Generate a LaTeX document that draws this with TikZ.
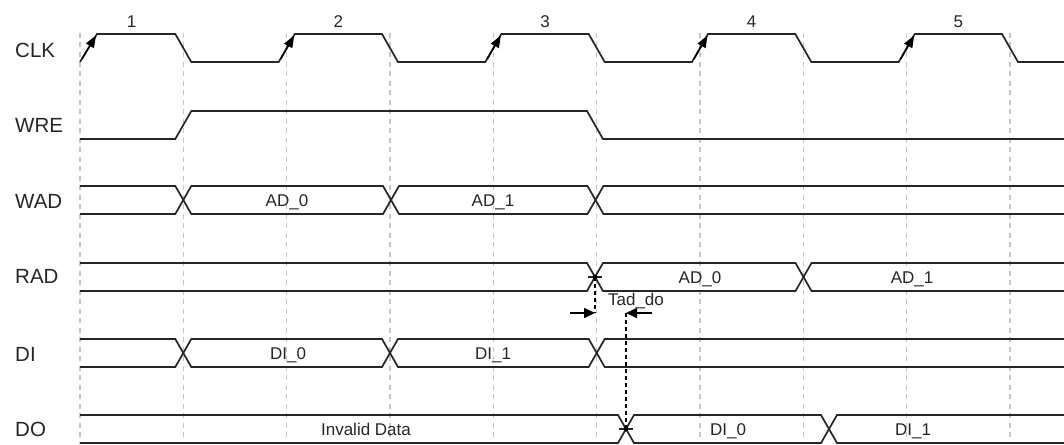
\documentclass[tikz,border=0pt]{standalone}
\usepackage{fontspec}
\setmainfont{Liberation Sans}
\usetikzlibrary{arrows.meta}
\begin{document}
\begin{tikzpicture}[x=1pt,y=-1pt,
  sig/.style={line width=1.7pt, draw=black!85, line join=miter},
  gridline/.style={line width=1.4pt, draw=black!22, dash pattern=on 5pt off 4.5pt},
  signame/.style={font=\fontsize{20.5}{21}\selectfont, anchor=base west, text=black!85, inner sep=0pt},
  lbl/.style={font=\fontsize{17}{17}\selectfont, anchor=base, text=black!85, inner sep=0pt},
  edgearrow/.style={line width=1.5pt, draw=black, -{Triangle[length=12pt,width=9pt]}},
  dimarrow/.style={line width=1.6pt, draw=black, -{Triangle[length=11pt,width=10pt]}},
  guide/.style={line width=1.5pt, draw=black, dash pattern=on 4pt off 3pt},
]
\useasboundingbox (0,0) rectangle (1064,444);

% grid
\foreach \i in {0,...,9}
  \draw[gridline] ({80+103.333*\i},33) -- ({80+103.333*\i},444);

% cycle numbers
\node[lbl] (n1) at (131.7,28) {1};
\node[lbl] (n2) at (338.3,28) {2};
\node[lbl] (n3) at (545,28) {3};
\node[lbl] (n4) at (751.7,28) {4};
\node[lbl] (n5) at (958.3,28) {5};

% signal names
\node[signame] (lclk) at (15,57) {CLK};
\node[signame] (lwre) at (15,132) {WRE};
\node[signame] (lwad) at (15,208) {WAD};
\node[signame] (lrad) at (15,283) {RAD};
\node[signame] (ldi)  at (15,361) {DI};
\node[signame] (ldo)  at (15,436) {DO};

% CLK
\draw[sig] (80,62) -- (97,34) -- (175.3,34) -- (191.3,62) -- (278.7,62) -- (294.7,34)
  -- (382,34) -- (398,62) -- (485.3,62) -- (501.3,34) -- (588.7,34) -- (604.7,62)
  -- (692,62) -- (708,34) -- (795.3,34) -- (811.3,62) -- (898.7,62) -- (914.7,34)
  -- (1002,34) -- (1018,62) -- (1064,62);
\draw[edgearrow] (82,59) -- (96,35.5);
\draw[edgearrow] (280.7,59) -- (294.2,35.5);
\draw[edgearrow] (487.3,59) -- (500.8,35.5);
\draw[edgearrow] (694,59) -- (707.5,35.5);
\draw[edgearrow] (900.7,59) -- (914.2,35.5);

% WRE
\draw[sig] (80,139) -- (175.3,139) -- (191.3,111) -- (587,111) -- (603,139) -- (1064,139);

% WAD
\draw[sig] (80,186) -- (175.3,186) -- (191.3,214) -- (383,214) -- (399,186) -- (587.5,186) -- (603.5,214) -- (1064,214);
\draw[sig] (80,214) -- (175.3,214) -- (191.3,186) -- (383,186) -- (399,214) -- (587.5,214) -- (603.5,186) -- (1064,186);
\node[lbl] (wad0) at (287,206) {AD\_0};
\node[lbl] (wad1) at (493,206) {AD\_1};

% RAD
\draw[sig] (80,263) -- (587,263) -- (603,291) -- (795.5,291) -- (811.5,263) -- (1064,263);
\draw[sig] (80,291) -- (587,291) -- (603,263) -- (795.5,263) -- (811.5,291) -- (1064,291);
\node[lbl] (rad0) at (700,283) {AD\_0};
\node[lbl] (rad1) at (912,283) {AD\_1};

% DI
\draw[sig] (80,339) -- (175.3,339) -- (191.3,367) -- (382,367) -- (398,339) -- (588.7,339) -- (604.7,367) -- (1064,367);
\draw[sig] (80,367) -- (175.3,367) -- (191.3,339) -- (382,339) -- (398,367) -- (588.7,367) -- (604.7,339) -- (1064,339);
\node[lbl] (di0) at (288,359) {DI\_0};
\node[lbl] (di1) at (493,359) {DI\_1};

% DO
\draw[sig] (80,415) -- (618,415) -- (634,443) -- (821,443) -- (837,415) -- (1064,415);
\draw[sig] (80,443) -- (618,443) -- (634,415) -- (821,415) -- (837,443) -- (1064,443);
\node[lbl] (inv) at (366,435) {Invalid Data};
\node[lbl] (do0) at (728,435) {DI\_0};
\node[lbl] (do1) at (913,435) {DI\_1};

% Tad_do annotation
\coordinate (radx) at (595,277);
\coordinate (lfoot) at (595,313);
\coordinate (ltail) at (570,313);
\coordinate (rfoot) at (626,313);
\coordinate (rtail) at (652,313);
\coordinate (dox) at (626,429);
\draw[sig] (588,277) -- (602,277);
\fill[black] (radx) circle (2.5);
\draw[sig] (619,429) -- (633,429);
\fill[black] (dox) circle (2.5);
\draw[guide] (radx) -- (lfoot);
\draw[guide] (rfoot) -- (dox);
\draw[dimarrow] (ltail) -- (lfoot);
\draw[dimarrow] (rtail) -- (rfoot);
\node[lbl] (tad) at (636,305) {Tad\_do};
\end{tikzpicture}
\end{document}
